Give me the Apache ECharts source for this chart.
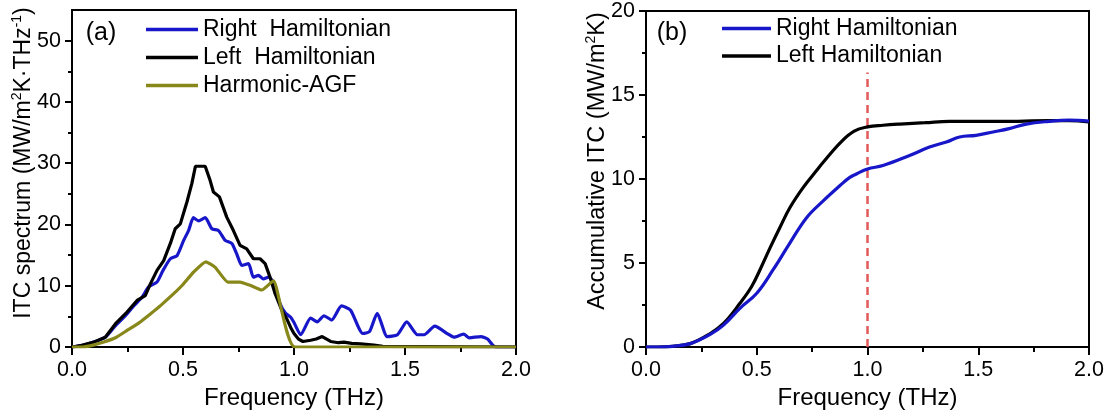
<!DOCTYPE html>
<html>
<head>
<meta charset="utf-8">
<script src="https://cdn.jsdelivr.net/npm/echarts@6/dist/echarts.min.js"></script>
<style>
  html, body { margin: 0; padding: 0; background: #ffffff; }
  #chart { width: 1112px; height: 419px; }
</style>
</head>
<body>
<div id="chart"></div>
<script>
// ---- (a) ITC spectrum, MW/(m^2 K THz) ----
const specRightX = [0, 0.016, 0.05, 0.098, 0.15, 0.196, 0.248, 0.28, 0.315, 0.345, 0.383, 0.41, 0.443, 0.473, 0.503, 0.525, 0.547, 0.57, 0.6, 0.63, 0.66, 0.69, 0.72, 0.742, 0.765, 0.795, 0.817, 0.84, 0.862, 0.885, 0.907, 0.937, 0.962, 0.984, 1.0, 1.03, 1.075, 1.105, 1.135, 1.17, 1.214, 1.255, 1.31, 1.34, 1.375, 1.42, 1.466, 1.508, 1.556, 1.586, 1.634, 1.69, 1.72, 1.764, 1.79, 1.842, 1.872, 1.895, 1.91, 2.0];
const specRightY = [0, 0.08, 0.3, 0.8, 1.6, 3.5, 5.4, 6.8, 8.1, 9.8, 10.6, 12.5, 14.4, 14.9, 17.4, 19.0, 21.1, 20.6, 21.1, 19.3, 19.0, 17.4, 16.9, 15.2, 13.3, 13.6, 11.4, 11.7, 11.1, 11.4, 10.6, 7.1, 5.5, 4.9, 4.0, 2.0, 4.7, 4.1, 5.1, 4.4, 6.7, 6.0, 2.2, 2.5, 5.5, 1.7, 2.0, 4.1, 2.0, 2.0, 3.4, 2.2, 1.6, 2.1, 1.5, 1.7, 1.3, 0.3, 0, 0];

const specLeftX = [0, 0.016, 0.05, 0.098, 0.15, 0.196, 0.248, 0.293, 0.33, 0.353, 0.383, 0.413, 0.443, 0.465, 0.488, 0.518, 0.54, 0.556, 0.6, 0.622, 0.637, 0.664, 0.697, 0.727, 0.757, 0.787, 0.817, 0.847, 0.87, 0.892, 0.915, 0.945, 0.97, 0.985, 1.0, 1.02, 1.04, 1.075, 1.1, 1.127, 1.165, 1.2, 1.225, 1.26, 1.3, 1.36, 1.4, 2.0];
const specLeftY = [0, 0.08, 0.3, 0.8, 1.6, 3.8, 5.7, 7.6, 8.4, 10.3, 12.5, 14.1, 16.9, 19.3, 20.1, 23.7, 26.7, 29.5, 29.5, 27.2, 25.3, 24.5, 21.2, 19.0, 16.6, 16.0, 14.4, 14.4, 13.6, 11.4, 8.7, 6.0, 4.4, 3.2, 2.2, 1.3, 0.9, 1.1, 1.3, 1.7, 0.9, 0.7, 0.8, 0.6, 0.5, 0.3, 0.1, 0];

const specAgfX = [0, 0.046, 0.1, 0.143, 0.2, 0.248, 0.3, 0.353, 0.4, 0.458, 0.5, 0.547, 0.603, 0.645, 0.702, 0.757, 0.8, 0.855, 0.907, 1.004, 2.0];
const specAgfY = [0, 0, 0.35, 0.8, 1.6, 2.7, 3.9, 5.4, 6.8, 8.7, 10.2, 12.2, 13.9, 13.0, 10.6, 10.6, 10.1, 9.3, 10.8, 0, 0];

// ---- (b) accumulative ITC, MW/(m^2 K) ----
const accLeftX = [0, 0.05, 0.12, 0.2, 0.29, 0.35, 0.424, 0.477, 0.52, 0.56, 0.604, 0.65, 0.71, 0.77, 0.8, 0.88, 0.94, 1.0, 1.07, 1.146, 1.26, 1.37, 1.6, 1.82, 1.91, 2.0];
const accLeftY = [0, 0, 0.04, 0.2, 0.8, 1.4, 2.6, 3.6, 4.75, 5.9, 7.1, 8.3, 9.5, 10.5, 11.0, 12.2, 12.85, 13.1, 13.2, 13.27, 13.35, 13.43, 13.43, 13.47, 13.47, 13.4];

const accRightX = [0, 0.05, 0.12, 0.2, 0.29, 0.35, 0.424, 0.5, 0.574, 0.65, 0.725, 0.8, 0.875, 0.92, 0.95, 1.0, 1.07, 1.19, 1.28, 1.356, 1.416, 1.49, 1.567, 1.64, 1.717, 1.82, 1.91, 2.0];
const accRightY = [0, 0, 0.04, 0.2, 0.75, 1.3, 2.3, 3.2, 4.6, 6.2, 7.7, 8.7, 9.6, 10.1, 10.3, 10.6, 10.8, 11.4, 11.9, 12.2, 12.5, 12.6, 12.8, 13.0, 13.27, 13.43, 13.5, 13.45];

// tick positions
const freqTicks = [0, 0.5, 1.0, 1.5, 2.0];
const specMajorTicks = [0, 10, 20, 30, 40, 50];
const specMinorTicks = [5, 15, 25, 35, 45];
const cutoffFreq = 1.0;

const FONT = '"Liberation Sans", Arial, sans-serif';
const BLUE = '#1717c9';
const BLACK = '#000000';
const OLIVE = '#87871a';
const RED = '#e25a5a';
const LINE_W = 3.2;

const zip = (xs, ys) => xs.map((x, i) => [x, ys[i]]);

function freqAxis(gridIndex) {
  return {
    type: 'value', gridIndex: gridIndex, min: freqTicks[0], max: freqTicks[freqTicks.length - 1], interval: 0.5,
    name: 'Frequency (THz)', nameLocation: 'middle', nameGap: 37,
    nameTextStyle: { fontSize: 24, color: '#000', fontFamily: FONT },
    axisLine: { show: true, onZero: false, lineStyle: { color: '#000', width: 2 } },
    axisTick: { show: true, inside: false, length: 8, lineStyle: { color: '#000', width: 2 } },
    minorTick: { show: true, splitNumber: 2, length: 5, lineStyle: { color: '#000', width: 2 } },
    axisLabel: { fontSize: 21.5, color: '#000', margin: 12, fontFamily: FONT, formatter: v => v.toFixed(1) },
    splitLine: { show: false }, minorSplitLine: { show: false }
  };
}

// vertical legend with an opaque white box, drawn above the cutoff marker
function legendBlock(names, left, top, width, gap, pad) {
  return {
    data: names.map(n => ({ name: n, icon: 'rect' })),
    orient: 'vertical', left: left, top: top, padding: pad, z: 20,
    backgroundColor: '#ffffff',
    itemWidth: width, itemHeight: 3.5, itemGap: gap, selectedMode: false,
    textStyle: { fontSize: 23, fontFamily: FONT, color: '#000' }
  };
}

const option = {
  animation: false,
  backgroundColor: '#ffffff',
  grid: [
    { left: 72, top: 10, width: 444, height: 337, show: true, borderColor: '#000', borderWidth: 2, backgroundColor: 'transparent' },
    { left: 646, top: 10, width: 443, height: 337, show: true, borderColor: '#000', borderWidth: 2, backgroundColor: 'transparent' }
  ],
  xAxis: [freqAxis(0), freqAxis(1)],
  yAxis: [
    {
      type: 'value', gridIndex: 0, min: 0, max: 55,
      axisLine: { show: true, onZero: false, lineStyle: { color: '#000', width: 2 } },
      axisTick: { show: true, length: 7, customValues: specMajorTicks, lineStyle: { color: '#000', width: 2 } },
      axisLabel: { fontSize: 21.5, color: '#000', margin: 11, fontFamily: FONT, customValues: specMajorTicks },
      splitLine: { show: false }
    },
    {
      type: 'value', gridIndex: 0, min: 0, max: 55, position: 'left',
      axisLine: { show: false },
      axisTick: { show: true, length: 4, customValues: specMinorTicks, lineStyle: { color: '#000', width: 2 } },
      axisLabel: { show: false },
      splitLine: { show: false }
    },
    {
      type: 'value', gridIndex: 1, min: 0, max: 20, interval: 5,
      axisLine: { show: true, onZero: false, lineStyle: { color: '#000', width: 2 } },
      axisTick: { show: true, length: 7, lineStyle: { color: '#000', width: 2 } },
      minorTick: { show: true, splitNumber: 2, length: 4, lineStyle: { color: '#000', width: 2 } },
      axisLabel: { fontSize: 21.5, color: '#000', margin: 11, fontFamily: FONT },
      splitLine: { show: false }
    }
  ],
  legend: [
    legendBlock(['Right  Hamiltonian', 'Left  Hamiltonian', 'Harmonic-AGF'], 146, 18, 52, 5, 0),
    legendBlock(['Right Hamiltonian', 'Left Hamiltonian'], 716, 14, 49, 4.5, [3, 6, 5, 6])
  ],
  series: [
    {
      name: 'Right  Hamiltonian', type: 'line', xAxisIndex: 0, yAxisIndex: 0,
      data: zip(specRightX, specRightY), symbol: 'none', smooth: 0.2,
      lineStyle: { color: BLUE, width: LINE_W }, itemStyle: { color: BLUE }
    },
    {
      name: 'Left  Hamiltonian', type: 'line', xAxisIndex: 0, yAxisIndex: 0,
      data: zip(specLeftX, specLeftY), symbol: 'none',
      lineStyle: { color: BLACK, width: LINE_W }, itemStyle: { color: BLACK }
    },
    {
      name: 'Harmonic-AGF', type: 'line', xAxisIndex: 0, yAxisIndex: 0,
      data: zip(specAgfX, specAgfY), symbol: 'none', smooth: 0.15,
      lineStyle: { color: OLIVE, width: LINE_W }, itemStyle: { color: OLIVE }
    },
    {
      name: 'Left Hamiltonian', type: 'line', xAxisIndex: 1, yAxisIndex: 2,
      data: zip(accLeftX, accLeftY), symbol: 'none', smooth: 0.4,
      lineStyle: { color: BLACK, width: LINE_W }, itemStyle: { color: BLACK }
    },
    {
      name: 'Right Hamiltonian', type: 'line', xAxisIndex: 1, yAxisIndex: 2,
      data: zip(accRightX, accRightY), symbol: 'none', smooth: 0.4,
      lineStyle: { color: BLUE, width: LINE_W }, itemStyle: { color: BLUE },
      markLine: {
        silent: true, symbol: 'none', label: { show: false }, z: 3,
        lineStyle: { color: RED, width: 2.5, type: [8, 5] },
        data: [{ xAxis: cutoffFreq }]
      }
    }
  ],
  graphic: [
    {
      type: 'text', x: 101, y: 33,
      style: { text: '(a)', fontSize: 25, fontFamily: FONT, fill: '#000', align: 'center', verticalAlign: 'middle' }
    },
    {
      type: 'text', x: 672, y: 33,
      style: { text: '(b)', fontSize: 25, fontFamily: FONT, fill: '#000', align: 'center', verticalAlign: 'middle' }
    },
    {
      type: 'text', x: 24, y: 163, rotation: Math.PI / 2,
      style: {
        text: '{n|ITC spectrum (MW/m}{s|2}{n|K·THz}{s|-1}{n|)}',
        align: 'center', verticalAlign: 'middle',
        rich: {
          n: { fontSize: 23, fontFamily: FONT, fill: '#000', lineHeight: 28 },
          s: { fontSize: 14, fontFamily: FONT, fill: '#000', lineHeight: 16, verticalAlign: 'top' }
        }
      }
    },
    {
      type: 'text', x: 598, y: 161, rotation: Math.PI / 2,
      style: {
        text: '{n|Accumulative ITC (MW/m}{s|2}{n|K)}',
        align: 'center', verticalAlign: 'middle',
        rich: {
          n: { fontSize: 23.5, fontFamily: FONT, fill: '#000', lineHeight: 28 },
          s: { fontSize: 14, fontFamily: FONT, fill: '#000', lineHeight: 16, verticalAlign: 'top' }
        }
      }
    }
  ]
};

const chart = echarts.init(document.getElementById('chart'), null, { renderer: 'canvas' });
chart.setOption(option);
</script>
</body>
</html>
